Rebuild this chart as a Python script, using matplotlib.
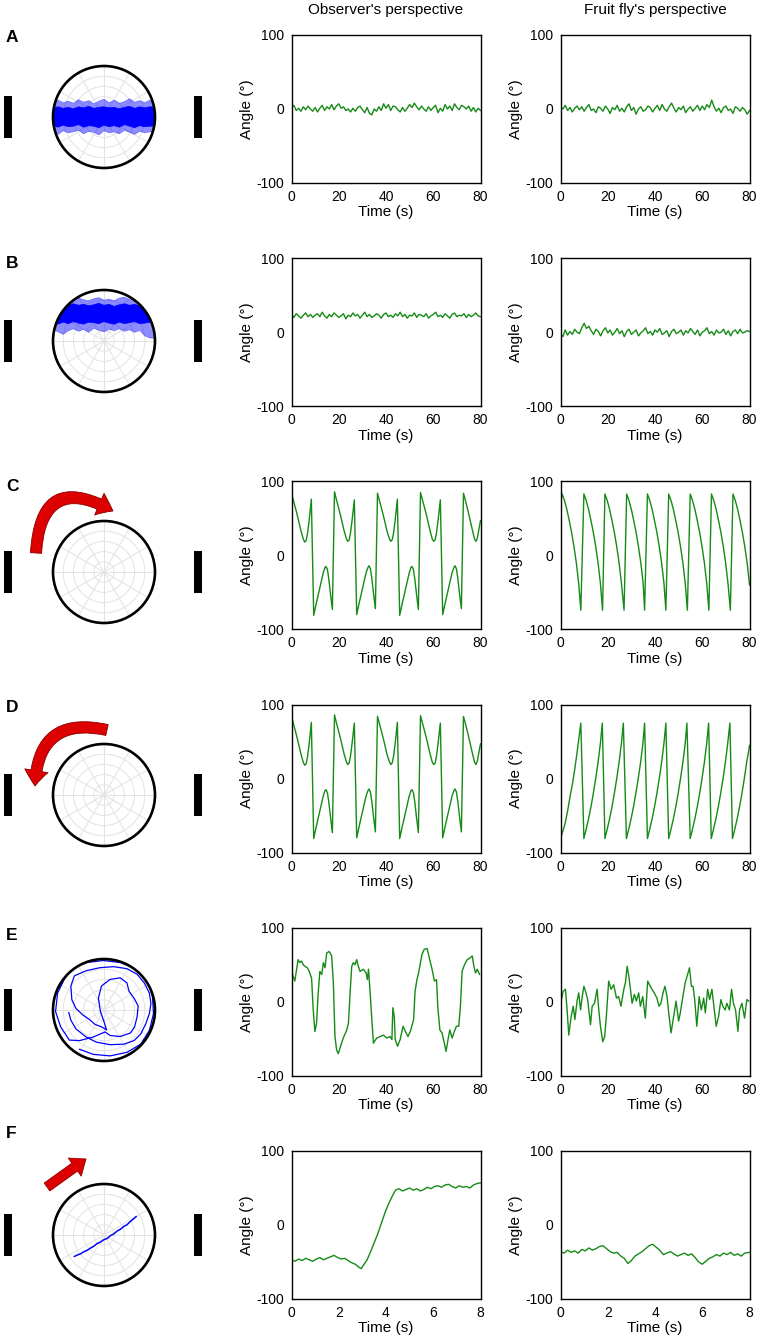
import numpy as np
import matplotlib
matplotlib.use('Agg')
import matplotlib.pyplot as plt
from matplotlib.patches import Circle, Rectangle, FancyArrowPatch, Polygon

plt.rcParams['font.family'] = ['Liberation Sans', 'DejaVu Sans']
plt.rcParams['axes.unicode_minus'] = False

# ---------------- data ----------------
panel_letters = ['A', 'B', 'C', 'D', 'E', 'F']
col_titles = ["Observer's perspective", "Fruit fly's perspective"]
yticks = [-100, 0, 100]
xticks_long = [0, 20, 40, 60, 80]
xticks_short = [0, 2, 4, 6, 8]

A_obs = [2,5,-2,1,-3,3,-1,4,0,-3,2,-4,1,5,-2,3,0,6,-1,4,7,1,3,-2,0,-4,1,-3,2,4,-1,-5,2,-6,-8,0,-3,3,-2,7,1,6,-2,4,3,-1,-4,2,-3,1,6,2,8,3,-1,4,0,-3,3,-2,2,5,-5,1,-3,6,0,4,-2,7,2,-1,5,3,0,4,-3,2,-4,1,-2]
A_fly = [3,0,5,-2,2,-4,1,4,-1,3,-3,2,6,-2,0,-5,3,1,-3,4,0,-6,2,-1,5,-3,1,-4,3,7,-2,2,-7,0,3,-3,-1,4,2,-4,1,5,-2,6,0,-3,3,8,1,-4,2,-1,4,-5,0,3,-3,1,5,-2,4,-1,6,2,12,3,-3,1,-5,2,4,-2,0,-6,3,1,-3,2,-1,-7,-2]
B_obs = [24,20,25,22,19,23,26,21,24,20,23,25,21,27,22,19,24,21,26,23,20,22,25,18,23,21,26,22,24,19,23,27,21,24,20,22,25,23,19,24,26,21,23,20,25,22,27,21,24,19,23,22,26,20,24,23,21,25,19,22,24,27,21,23,20,25,22,19,24,26,21,23,22,25,20,24,21,23,26,22,21]
B_fly = [-2,-6,3,-4,1,-3,4,0,-2,6,12,5,8,2,-3,4,1,-5,2,6,-1,3,-4,0,5,-2,2,-6,1,4,-3,0,3,-5,-1,2,6,-2,1,-4,3,0,5,-3,-1,2,-6,1,4,-2,0,3,-4,2,-1,5,1,-3,3,-5,0,2,6,-2,1,-4,3,-1,0,4,-3,2,-5,1,3,-2,4,-1,0,2,1]

CD_obs_t = [0,1,2,3,4,5,5.6,6.2,6.8,7.5,8.4,9.4,10.4,11.4,12.4,13.4,14.2,14.6,15.2,15.8,16.5,17.3,
            18.2,19.2,20.2,21.2,22.2,23.2,23.8,24.4,25.0,25.7,26.6,27.6,28.6,29.6,30.6,31.6,32.4,32.8,33.4,34.0,34.7,35.5,
            36.4,37.4,38.4,39.4,40.4,41.4,42.0,42.6,43.2,43.9,44.8,45.8,46.8,47.8,48.8,49.8,50.6,51.0,51.6,52.2,52.9,53.7,
            54.6,55.6,56.6,57.6,58.6,59.6,60.2,60.8,61.4,62.1,63.0,64.0,65.0,66.0,67.0,68.0,68.8,69.2,69.8,70.4,71.1,71.9,
            72.8,73.8,74.8,75.8,76.8,77.5,78.1,78.7,79.3,80]
CD_obs_v = [84,72,60,47,33,22,18,20,30,48,76,-81,-66,-52,-38,-24,-16,-15,-19,-32,-52,-73,
            86,73,61,48,34,23,19,21,31,49,75,-80,-65,-51,-37,-23,-16,-14,-18,-31,-51,-72,
            84,72,60,47,33,23,19,21,30,48,76,-81,-66,-52,-38,-24,-16,-15,-19,-32,-52,-73,
            85,73,61,48,34,22,19,21,31,49,75,-80,-65,-51,-37,-23,-16,-14,-18,-31,-51,-72,
            84,72,59,45,31,22,19,24,35,47]

C_fly_t = [0,0.7,1.7,2.7,3.7,4.7,5.7,6.7,7.7,8.6,
           9.9,10.9,11.9,12.9,13.9,14.9,15.9,16.9,17.8,
           18.8,19.8,20.8,21.8,22.8,23.8,24.8,25.8,26.9,
           28.0,29.0,30.0,31.0,32.0,33.0,34.0,35.0,35.6,
           36.8,37.8,38.8,39.8,40.8,41.8,42.8,43.8,44.6,
           45.8,46.8,47.8,48.8,49.8,50.8,51.8,52.8,53.7,
           54.9,55.9,56.9,57.9,58.9,59.9,60.9,61.9,62.8,
           63.9,64.9,65.9,66.9,67.9,68.9,69.9,70.9,71.9,
           73.0,74.0,75.0,76.0,77.0,78.0,79.0,80.0]
C_fly_v = [72,83,74,62,47,31,12,-10,-38,-74,
           83,74,62,47,31,12,-10,-38,-74,
           83,74,62,47,31,12,-10,-38,-74,
           83,74,62,47,31,12,-10,-38,-74,
           83,74,62,47,31,12,-10,-38,-74,
           83,74,62,47,31,12,-10,-38,-74,
           83,74,62,47,31,12,-10,-38,-74,
           83,74,62,47,31,12,-10,-38,-74,
           83,74,62,47,31,12,-10,-40]

D_fly_t = [0,1,2,3,4,5,6,7,8,8.6,
           9.9,10.9,11.9,12.9,13.9,14.9,15.9,16.9,17.7,
           18.8,19.8,20.8,21.8,22.8,23.8,24.8,25.8,26.6,
           27.9,28.9,29.9,30.9,31.9,32.9,33.9,34.9,35.6,
           36.8,37.8,38.8,39.8,40.8,41.8,42.8,43.8,44.6,
           45.8,46.8,47.8,48.8,49.8,50.8,51.8,52.8,53.5,
           54.9,55.9,56.9,57.9,58.9,59.9,60.9,61.9,62.7,
           63.8,64.8,65.8,66.8,67.8,68.8,69.8,70.8,71.7,
           72.8,73.8,74.8,75.8,76.8,77.8,78.8,79.8,80.0]
D_fly_v = [-81,-71,-60,-44,-25,-8,12,35,60,75,
           -81,-68,-54,-38,-20,0,22,48,75,
           -81,-68,-54,-38,-20,0,22,48,75,
           -81,-68,-54,-38,-20,0,22,48,75,
           -81,-68,-54,-38,-20,0,22,48,75,
           -81,-68,-54,-38,-20,0,22,48,75,
           -81,-68,-54,-38,-20,0,22,48,75,
           -81,-68,-54,-38,-20,0,22,48,75,
           -81,-68,-54,-38,-20,0,22,40,45]

E_obs_t = [0.4,1.4,2.8,3.5,4.2,5.0,5.7,6.7,7.5,8.5,9.2,9.9,10.6,11.3,12.0,12.8,13.5,14.2,14.9,16.0,17.0,17.7,18.4,19.1,19.8,20.5,21.9,23.4,24.1,24.8,25.5,26.2,26.9,27.6,28.3,29.0,30.4,31.6,32.1,32.6,33.3,34.0,34.7,35.4,36.1,37.5,38.9,40.3,41.7,42.5,42.9,43.5,43.9,44.9,46.0,47.2,48.2,49.3,50.3,51.7,52.3,53.1,53.8,55.2,56.2,57.4,58.5,59.5,60.5,61.4,61.9,62.8,63.7,64.7,65.4,66.1,67.0,68.0,68.7,69.8,70.8,71.5,72.2,73.2,74.4,75.5,76.5,77.2,77.9,78.6,79.6]
E_obs_v = [37,28,57,53,55,50,48,46,41,32,-11,-40,-29,12,41,37,53,46,66,68,62,26,-47,-65,-70,-63,-49,-38,-29,12,48,53,50,57,48,41,44,39,30,44,12,-24,-56,-52,-49,-47,-45,-49,-47,-51,-8,-20,-51,-60,-51,-33,-40,-47,-40,-24,14,30,39,64,71,72,57,44,28,30,-6,-38,-42,-56,-67,-54,-38,-49,-42,-33,-33,-6,41,50,57,59,62,48,39,44,37]

E_fly_t = [0.3,1.1,2.1,2.8,3.5,4.5,5.4,6.1,7.0,7.7,8.5,9.2,9.9,10.6,11.5,12.7,13.4,14.4,15.5,16.2,16.9,17.9,18.7,19.4,20.4,21.4,22.5,23.7,24.6,25.6,26.8,27.5,28.2,28.9,29.6,30.3,31.3,32.1,33.1,33.8,34.8,35.9,36.9,37.7,38.7,39.7,40.8,41.7,42.5,43.4,44.2,45.1,45.8,46.8,47.9,48.9,50.0,50.7,51.8,52.8,53.8,54.6,55.4,56.1,56.8,57.7,58.7,59.6,60.6,61.3,62.3,63.1,64.1,65.1,65.9,66.9,67.9,68.7,69.7,70.4,71.5,72.4,73.2,74.1,75.1,75.8,76.8,77.9,78.9,79.7]
E_fly_v = [1,14,17,-11,-45,-20,-6,-24,1,12,-11,7,21,14,3,-31,-6,-2,17,-11,-33,-54,-47,-20,28,17,23,5,7,-6,17,26,48,35,17,-2,10,1,12,-6,7,-22,28,23,17,12,5,-6,-2,12,21,7,-15,-42,-20,1,-26,-15,7,26,37,46,21,21,3,-33,7,-11,5,-15,17,3,17,-11,-33,-20,3,-6,-11,-2,-11,17,-2,-11,-40,-11,-2,-22,3,1]

F_obs_t = [0,0.15,0.3,0.45,0.6,0.75,0.9,1.05,1.2,1.35,1.5,1.65,1.8,1.95,2.1,2.25,2.4,2.55,2.7,2.85,2.95,3.05,3.2,3.35,3.5,3.65,3.8,3.95,4.1,4.25,4.4,4.55,4.7,4.85,5.0,5.15,5.3,5.45,5.6,5.75,5.9,6.05,6.2,6.35,6.5,6.65,6.8,6.95,7.1,7.25,7.4,7.55,7.7,7.85,8.0]
F_obs_v = [-47,-49,-46,-48,-45,-47,-49,-46,-44,-47,-45,-43,-41,-44,-46,-45,-48,-51,-53,-57,-59,-54,-47,-36,-24,-12,2,16,28,38,47,49,46,48,50,47,49,46,48,51,49,52,53,51,54,55,52,50,53,51,52,50,54,56,57]
F_fly_t = [0,0.15,0.3,0.45,0.6,0.75,0.9,1.05,1.2,1.35,1.5,1.65,1.8,1.95,2.1,2.25,2.4,2.55,2.7,2.85,3.0,3.15,3.3,3.45,3.6,3.75,3.9,4.05,4.2,4.35,4.5,4.65,4.8,4.95,5.1,5.25,5.4,5.55,5.7,5.85,6.0,6.15,6.3,6.45,6.6,6.75,6.9,7.05,7.2,7.35,7.5,7.65,7.8,8.0]
F_fly_v = [-36,-38,-34,-37,-35,-38,-33,-35,-31,-34,-32,-29,-28,-32,-36,-38,-37,-42,-45,-52,-48,-42,-39,-36,-32,-28,-26,-30,-34,-40,-38,-36,-39,-42,-40,-38,-41,-39,-44,-50,-53,-49,-45,-43,-40,-42,-38,-40,-37,-41,-39,-42,-38,-37]

# polar diagram content (normalised to circle radius)
band_x = [-1.0,-0.9,-0.8,-0.7,-0.6,-0.5,-0.4,-0.3,-0.2,-0.1,0.0,0.1,0.2,0.3,0.4,0.5,0.6,0.7,0.8,0.9,1.0]
A_out_top = [0.30,0.33,0.28,0.31,0.27,0.34,0.29,0.32,0.26,0.31,0.35,0.28,0.33,0.27,0.30,0.36,0.29,0.32,0.28,0.33,0.30]
A_core_top = [0.18,0.20,0.17,0.19,0.16,0.20,0.18,0.21,0.17,0.19,0.20,0.18,0.19,0.16,0.19,0.21,0.17,0.20,0.18,0.20,0.19]
A_core_bot = [-0.17,-0.20,-0.16,-0.19,-0.18,-0.15,-0.20,-0.17,-0.18,-0.21,-0.16,-0.19,-0.17,-0.20,-0.15,-0.18,-0.21,-0.17,-0.19,-0.18,-0.18]
A_out_bot = [-0.28,-0.34,-0.27,-0.31,-0.29,-0.26,-0.33,-0.28,-0.30,-0.35,-0.27,-0.31,-0.29,-0.33,-0.26,-0.30,-0.34,-0.28,-0.31,-0.29,-0.30]
B_out_top = [0.80,0.82,0.79,0.83,0.80,0.84,0.81,0.79,0.83,0.85,0.80,0.82,0.79,0.84,0.86,0.81,0.83,0.80,0.82,0.79,0.81]
B_core_top = [0.70,0.72,0.69,0.71,0.73,0.70,0.72,0.69,0.71,0.74,0.70,0.72,0.68,0.71,0.73,0.70,0.72,0.69,0.71,0.70,0.72]
B_core_bot = [0.36,0.33,0.37,0.34,0.38,0.35,0.33,0.37,0.36,0.34,0.38,0.35,0.33,0.37,0.34,0.36,0.38,0.34,0.35,0.37,0.36]
B_out_bot = [0.22,0.18,0.13,0.20,0.24,0.19,0.23,0.17,0.25,0.21,0.18,0.23,0.20,0.24,0.19,0.22,0.17,0.21,0.10,0.06,0.05]

E_path_x = [-0.69,-0.65,-0.55,-0.35,-0.15,0.12,0.39,0.59,0.72,0.82,0.89,0.92,0.89,0.79,0.65,0.45,0.19,-0.08,-0.35,-0.58,-0.65,-0.63,-0.55,-0.41,-0.28,-0.18,-0.05,0.05,
            0.0,-0.07,-0.11,-0.05,0.12,0.32,0.45,0.49,0.59,0.67,0.65,0.60,0.52,0.32,0.12,0.02,
            -0.21,-0.48,-0.68,-0.85,-0.95,-0.91,-0.78,-0.61,-0.35,-0.01,0.32,0.65,0.85,0.95,0.97,0.89,0.72,0.45,0.12,-0.21,-0.48]
E_path_y = [-0.05,-0.20,-0.37,-0.53,-0.63,-0.68,-0.67,-0.60,-0.47,-0.27,-0.07,0.13,0.33,0.53,0.70,0.81,0.85,0.83,0.77,0.67,0.47,0.20,0.03,-0.10,-0.19,-0.28,-0.33,-0.39,
            -0.23,-0.03,0.23,0.47,0.60,0.63,0.53,0.37,0.23,0.08,-0.13,-0.33,-0.45,-0.52,-0.50,-0.43,
            -0.53,-0.60,-0.59,-0.33,-0.03,0.33,0.60,0.83,0.93,0.97,0.93,0.80,0.57,0.27,-0.07,-0.40,-0.67,-0.83,-0.90,-0.87,-0.77]

F_path_x = [-0.58,-0.52,-0.46,-0.40,-0.33,-0.27,-0.20,-0.14,-0.07,0.0,0.06,0.13,0.19,0.26,0.32,0.39,0.45,0.51,0.57,0.63]
F_path_y = [-0.42,-0.39,-0.37,-0.33,-0.30,-0.26,-0.22,-0.17,-0.14,-0.09,-0.07,-0.01,0.02,0.08,0.11,0.17,0.20,0.26,0.31,0.36]

# ---------------- figure ----------------
W, H = 761, 1339
fig = plt.figure(figsize=(W / 100, H / 100), dpi=100)
GREEN = '#168a16'
BLUE = '#0000ff'


def add_ax(x0, y0, w, h):
    return fig.add_axes([x0 / W, 1 - (y0 + h) / H, w / W, h / H])


row_tops = [35 + 223.2 * i for i in range(6)]
col_lefts = [291.5, 560.5]
AX_W, AX_H = 189, 148

series = [
    ((np.linspace(0, 80, len(A_obs)), A_obs), (np.linspace(0, 80, len(A_fly)), A_fly)),
    ((np.linspace(0, 80, len(B_obs)), B_obs), (np.linspace(0, 80, len(B_fly)), B_fly)),
    ((CD_obs_t, CD_obs_v), (C_fly_t, C_fly_v)),
    ((CD_obs_t, CD_obs_v), (D_fly_t, D_fly_v)),
    ((E_obs_t, E_obs_v), (E_fly_t, E_fly_v)),
    ((F_obs_t, F_obs_v), (F_fly_t, F_fly_v)),
]

for r, top in enumerate(row_tops):
    for c, left in enumerate(col_lefts):
        ax = add_ax(left, top, AX_W, AX_H)
        t, v = series[r][c]
        ax.plot(t, v, color=GREEN, lw=1.0)
        xmax = 8 if r == 5 else 80
        ax.set_xlim(0, xmax)
        ax.set_ylim(-100, 100)
        ax.set_xticks(xticks_short if r == 5 else xticks_long)
        ax.set_yticks(yticks)
        ax.set_yticks([0], minor=True)
        ax.tick_params(axis='both', which='major', length=0, labelsize=10, pad=5)
        ax.tick_params(axis='y', which='minor', length=4, width=1.0, direction='out')
        ax.set_xlabel('Time (s)', fontsize=11, labelpad=1)
        ax.set_ylabel('Angle (°)', fontsize=11)
        ax.yaxis.set_label_coords(-0.2, 0.5)
        for s in ax.spines.values():
            s.set_linewidth(1.0)

fig.text(386 / W, 1 - 10 / H, col_titles[0], ha='center', va='center', fontsize=11)
fig.text(655 / W, 1 - 10 / H, col_titles[1], ha='center', va='center', fontsize=11)

letter_y = [38, 263, 487, 708, 935, 1133]
for L, ly in zip(panel_letters, letter_y):
    fig.text(6 / W, 1 - ly / H, L, ha='left', va='center', fontsize=12.5, fontweight='bold')

# ---------------- diagrams ----------------
centers_y = [117, 341, 572, 795, 1010, 1235]
CX, R = 104, 51


def make_diag(cy):
    y0 = cy - 100
    hgt = 180
    ax = add_ax(0, y0, 210, hgt)
    ax.set_xlim(0, 210)
    ax.set_ylim(y0 + hgt, y0)
    ax.axis('off')
    for k in range(1, 5):
        ax.add_patch(Circle((CX, cy), R * k / 5, fill=False, ec='#e2e2e2', lw=0.7, zorder=1))
    for a in range(0, 180, 30):
        th = np.deg2rad(a)
        ax.plot([CX - R * np.cos(th), CX + R * np.cos(th)], [cy - R * np.sin(th), cy + R * np.sin(th)],
                color='#e2e2e2', lw=0.7, zorder=1)
    clip = Circle((CX, cy), R, transform=ax.transData, fc='none', ec='none')
    ax.add_patch(clip)
    ax.add_patch(Circle((CX, cy), R, fill=False, ec='black', lw=1.9, zorder=6))
    ax.add_patch(Rectangle((4, cy - 21), 8, 42, fc='black', ec='none'))
    ax.add_patch(Rectangle((194, cy - 21), 8, 42, fc='black', ec='none'))
    return ax, clip


def to_px(xn, yn, cy):
    return CX + R * np.asarray(xn), cy - R * np.asarray(yn)


def band(ax, clip, cy, top, bot, alpha):
    xs = list(band_x) + list(band_x)[::-1]
    ys = list(top) + list(bot)[::-1]
    px, py = to_px(xs, ys, cy)
    p = Polygon(np.column_stack([px, py]), closed=True, fc=BLUE, ec=BLUE, lw=0.5, alpha=alpha, zorder=3)
    ax.add_patch(p)
    p.set_clip_path(clip)


diag_axes = []
for r, cy in enumerate(centers_y):
    diag_axes.append(make_diag(cy))

ax, clip = diag_axes[0]
band(ax, clip, centers_y[0], A_out_top, A_out_bot, 0.45)
band(ax, clip, centers_y[0], A_core_top, A_core_bot, 1.0)
ax, clip = diag_axes[1]
band(ax, clip, centers_y[1], B_out_top, B_out_bot, 0.45)
band(ax, clip, centers_y[1], B_core_top, B_core_bot, 1.0)
ax, clip = diag_axes[4]
px, py = to_px(E_path_x, E_path_y, centers_y[4])
ln, = ax.plot(px, py, color=BLUE, lw=0.9, zorder=4)
ln.set_clip_path(clip)
ax, clip = diag_axes[5]
px, py = to_px(F_path_x, F_path_y, centers_y[5])
ax.plot(px, py, color=BLUE, lw=1.1, zorder=4)

RED, DRED = '#dd0000', '#8b0000'
ax = diag_axes[2][0]
ax.add_patch(FancyArrowPatch((36, 553), (113, 511), connectionstyle='arc3,rad=-0.8',
                             arrowstyle='simple,head_length=11,head_width=17,tail_width=8',
                             mutation_scale=1, fc=RED, ec=DRED, lw=0.6, shrinkA=0, shrinkB=0, zorder=7))
ax = diag_axes[3][0]
ax.add_patch(FancyArrowPatch((107, 730), (35, 786), connectionstyle='arc3,rad=0.6',
                             arrowstyle='simple,head_length=11,head_width=17,tail_width=8',
                             mutation_scale=1, fc=RED, ec=DRED, lw=0.6, shrinkA=0, shrinkB=0, zorder=7))
ax = diag_axes[5][0]
ax.add_patch(FancyArrowPatch((47, 1187), (86, 1159),
                             arrowstyle='simple,head_length=10,head_width=16,tail_width=7',
                             mutation_scale=1, fc=RED, ec=DRED, lw=0.6, shrinkA=0, shrinkB=0, zorder=7))

fig.savefig('out.png', dpi=100)
